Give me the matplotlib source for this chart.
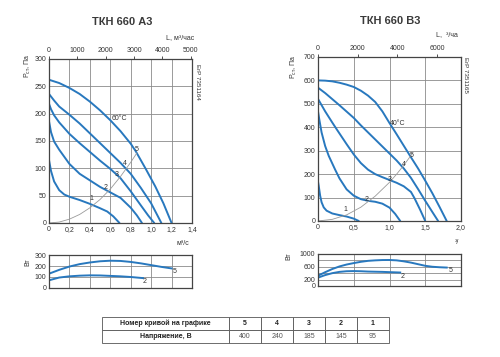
import matplotlib
matplotlib.use("Agg")
import matplotlib.pyplot as plt

plt.rcParams['font.family'] = ['Liberation Sans', 'DejaVu Sans']

BLUE = '#2878be'
GRAY = '#333333'

# ---- TKH 660 A3: pressure curves (x in m3/s, y in Pa)
a_x5 = [0, 0.1, 0.2, 0.3, 0.4, 0.5, 0.6, 0.7, 0.8, 0.85, 0.95, 1.04, 1.12, 1.2]
a_y5 = [262, 256, 247, 236, 222, 206, 188, 168, 145, 131, 98, 67, 36, 0]
a_x4 = [0, 0.05, 0.1, 0.2, 0.3, 0.4, 0.5, 0.6, 0.7, 0.8, 0.9, 1.0, 1.1]
a_y4 = [236, 224, 213, 198, 182, 164, 146, 128, 110, 90, 64, 36, 0]
a_x3 = [0, 0.02, 0.05, 0.1, 0.2, 0.3, 0.4, 0.5, 0.6, 0.7, 0.8, 0.9, 0.97, 1.03]
a_y3 = [218, 208, 197, 184, 163, 146, 130, 114, 99, 82, 58, 32, 14, 0]
a_x2 = [0, 0.02, 0.05, 0.1, 0.2, 0.3, 0.4, 0.5, 0.6, 0.7, 0.8, 0.86, 0.91]
a_y2 = [186, 166, 149, 134, 108, 90, 78, 66, 56, 46, 28, 14, 0]
a_x1 = [0, 0.02, 0.05, 0.1, 0.15, 0.2, 0.3, 0.4, 0.5, 0.57, 0.63, 0.69]
a_y1 = [115, 95, 76, 60, 52, 48, 42, 35, 27, 21, 12, 0]
a_sys_x = [0, 0.1, 0.2, 0.3, 0.4, 0.5, 0.6, 0.7, 0.8, 0.86]
a_sys_y = [0, 1.7, 7, 15.6, 27.7, 43, 62, 85, 111, 128]
# power (W)
a_px5 = [0, 0.1, 0.2, 0.3, 0.4, 0.5, 0.6, 0.7, 0.8, 0.9, 1.0, 1.1, 1.2]
a_pw5 = [130, 165, 195, 217, 232, 243, 248, 246, 237, 224, 208, 192, 178]
a_px2 = [0, 0.1, 0.2, 0.3, 0.4, 0.5, 0.6, 0.7, 0.8, 0.92]
a_pw2 = [70, 95, 106, 112, 115, 114, 110, 106, 100, 90]

# ---- TKH 660 B3
b_x5 = [0, 0.1, 0.2, 0.3, 0.4, 0.5, 0.6, 0.7, 0.8, 0.9, 1.0, 1.1, 1.2, 1.3, 1.4, 1.5, 1.6, 1.7, 1.8]
b_y5 = [600, 599, 596, 590, 582, 572, 556, 535, 508, 468, 418, 370, 321, 272, 224, 172, 118, 60, 0]
b_x4 = [0, 0.1, 0.2, 0.3, 0.4, 0.5, 0.6, 0.7, 0.8, 0.9, 1.0, 1.1, 1.2, 1.3, 1.4, 1.5, 1.6, 1.68]
b_y4 = [569, 546, 520, 494, 467, 440, 408, 378, 348, 318, 288, 258, 224, 184, 136, 86, 38, 0]
b_x3 = [0, 0.1, 0.2, 0.26, 0.4, 0.5, 0.6, 0.7, 0.8, 0.9, 1.0, 1.1, 1.2, 1.3, 1.35, 1.43, 1.5]
b_y3 = [521, 468, 420, 392, 328, 284, 247, 219, 200, 187, 175, 163, 148, 124, 97, 47, 0]
b_x2 = [0, 0.02, 0.05, 0.1, 0.15, 0.24, 0.3, 0.4, 0.5, 0.6, 0.7, 0.8, 0.9, 1.0, 1.08, 1.15]
b_y2 = [468, 430, 378, 320, 278, 219, 182, 135, 108, 93, 86, 82, 74, 57, 30, 0]
b_x1 = [0, 0.01, 0.03, 0.05, 0.08, 0.12, 0.2, 0.3, 0.4, 0.5, 0.57]
b_y1 = [168, 150, 108, 80, 58, 44, 32, 25, 19, 10, 0]
b_sys_x = [0, 0.2, 0.4, 0.6, 0.8, 1.0, 1.1, 1.2, 1.32]
b_sys_y = [0, 7, 26, 59, 106, 165, 200, 238, 288]
b_px5 = [0, 0.1, 0.2, 0.3, 0.4, 0.5, 0.6, 0.7, 0.8, 0.9, 1.0, 1.1, 1.2, 1.3, 1.4, 1.5, 1.6, 1.7, 1.8]
b_pw5 = [320, 430, 530, 610, 670, 715, 755, 785, 800, 810, 812, 800, 770, 730, 680, 630, 600, 585, 575]
b_px2 = [0, 0.1, 0.2, 0.3, 0.4, 0.5, 0.6, 0.7, 0.8, 0.9, 1.0, 1.15]
b_pw2 = [260, 340, 400, 440, 460, 465, 460, 450, 445, 440, 432, 420]

curve_numbers = ['5', '4', '3', '2', '1']
voltages = ['400', '240', '185', '145', '95']

fig = plt.figure(figsize=(5, 3.57), dpi=100)


def style_axes(ax):
    for s in ax.spines.values():
        s.set_color('#444444')
        s.set_linewidth(0.9)
    ax.grid(True, color='#8a8a8a', linewidth=0.6)
    ax.set_axisbelow(True)
    ax.tick_params(length=0, labelsize=5, colors=GRAY, pad=2)


def main_chart(rect, curves, sysx, sysy, xmax, xstep, ymax, ystep, xlabels, top_ticks):
    ax = fig.add_axes(rect)
    style_axes(ax)
    for xs, ys in curves:
        ax.plot(xs, ys, color=BLUE, lw=1.4, solid_capstyle='round', solid_joinstyle='round')
    ax.plot(sysx, sysy, color='#9a9a9a', lw=0.6)
    ax.set_xlim(0, xmax)
    ax.set_ylim(0, ymax)
    ax.set_xticks([i * xstep for i in range(len(xlabels))])
    ax.set_xticklabels(xlabels)
    ax.set_yticks(range(0, ymax + 1, ystep))
    top = ax.secondary_xaxis('top', functions=(lambda v: v * 3600, lambda v: v / 3600))
    top.set_xticks(top_ticks)
    top.tick_params(length=2, width=0.6, labelsize=5, colors=GRAY, pad=1.5)
    top.spines['top'].set_visible(False)
    return ax


def power_chart(rect, xmax, xstep, nx, ymax, yticks, ylabels, series):
    ax = fig.add_axes(rect)
    style_axes(ax)
    for xs, ys in series:
        ax.plot(xs, ys, color=BLUE, lw=1.4, solid_joinstyle='round')
    ax.set_xlim(0, xmax)
    ax.set_ylim(0, ymax)
    ax.set_xticks([i * xstep for i in range(nx)])
    ax.set_xticklabels([])
    ax.set_yticks(yticks)
    ax.set_yticklabels(ylabels)
    return ax


# ---- left chart
ax1 = main_chart([0.098, 0.3754, 0.286, 0.4594],
                 [(a_x5, a_y5), (a_x4, a_y4), (a_x3, a_y3), (a_x2, a_y2), (a_x1, a_y1)],
                 a_sys_x, a_sys_y, 1.4, 0.2, 300, 50,
                 ['0', '0,2', '0,4', '0,6', '0,8', '1,0', '1,2', '1,4'],
                 [0, 1000, 2000, 3000, 4000, 5000])
for t, x, y in [('1', 0.42, 44), ('2', 0.55, 64), ('3', 0.66, 89), ('4', 0.745, 109), ('5', 0.86, 135)]:
    ax1.text(x, y, t, fontsize=5, color=GRAY, ha='center', va='center')
ax1.text(0.61, 191, '60°C', fontsize=5, color=GRAY, va='center')

axp1 = power_chart([0.098, 0.1933, 0.286, 0.0924], 1.4, 0.2, 8, 300,
                   [0, 100, 200, 300], ['0', '100', '200', '300'],
                   [(a_px5, a_pw5), (a_px2, a_pw2)])
axp1.text(1.234, 148, '5', fontsize=5, color=GRAY, ha='center', va='center')
axp1.text(0.94, 57, '2', fontsize=5, color=GRAY, ha='center', va='center')

# ---- right chart
ax2 = main_chart([0.636, 0.381, 0.286, 0.4594],
                 [(b_x5, b_y5), (b_x4, b_y4), (b_x3, b_y3), (b_x2, b_y2), (b_x1, b_y1)],
                 b_sys_x, b_sys_y, 2.0, 0.5, 700, 100,
                 ['0', '0,5', '1,0', '1,5', '2,0'],
                 [0, 2000, 4000, 6000])
for t, x, y in [('1', 0.38, 47), ('2', 0.68, 93), ('3', 1.0, 176), ('4', 1.2, 240), ('5', 1.31, 279)]:
    ax2.text(x, y, t, fontsize=5, color=GRAY, ha='center', va='center')
ax2.text(1.01, 416, '40°C', fontsize=5, color=GRAY, va='center')

axp2 = power_chart([0.636, 0.199, 0.286, 0.0896], 2.0, 0.5, 5, 1000,
                   [0, 200, 400, 600, 800, 1000], ['0', '200', '', '600', '', '1000'],
                   [(b_px5, b_pw5), (b_px2, b_pw2)])
axp2.text(1.86, 468, '5', fontsize=5, color=GRAY, ha='center', va='center')
axp2.text(1.19, 306, '2', fontsize=5, color=GRAY, ha='center', va='center')

# ---- titles and loose labels
fig.text(0.244, 0.938, 'ТКН 660 А3', fontsize=8, fontweight='bold', color='#3a3a3a', ha='center', va='center')
fig.text(0.78, 0.941, 'ТКН 660 В3', fontsize=8, fontweight='bold', color='#3a3a3a', ha='center', va='center')
fig.text(0.056, 0.815, 'Р$_{\\mathregular{ст}}$, Па', fontsize=5, color=GRAY, rotation=90, ha='center', va='center')
fig.text(0.587, 0.812, 'Р$_{\\mathregular{ст}}$, Па', fontsize=5, color=GRAY, rotation=90, ha='center', va='center')
fig.text(0.056, 0.266, 'Вт', fontsize=5, color=GRAY, rotation=90, ha='center', va='center')
fig.text(0.578, 0.283, 'Вт', fontsize=5, color=GRAY, rotation=90, ha='center', va='center')
fig.text(0.394, 0.770, 'ErP 7351164', fontsize=4.5, color=GRAY, rotation=-90, ha='center', va='center')
fig.text(0.930, 0.790, 'ErP 7351165', fontsize=4.5, color=GRAY, rotation=-90, ha='center', va='center')
fig.text(0.36, 0.894, 'L, м³/час', fontsize=5, color=GRAY, ha='center', va='center')
fig.text(0.894, 0.902, 'L,  ³/ча', fontsize=5, color=GRAY, ha='center', va='center')
fig.text(0.366, 0.317, 'м³/с', fontsize=5, color=GRAY, ha='center', va='center')
fig.text(0.914, 0.32, '³/', fontsize=5, color=GRAY, ha='center', va='center')

# ---- table
axt = fig.add_axes([0.204, 0.039, 0.574, 0.073])
axt.axis('off')
tbl = axt.table(cellText=[['Номер кривой на графике'] + curve_numbers,
                          ['Напряжение, В'] + voltages],
                colWidths=[0.4425] + [0.1115] * 5, cellLoc='center', bbox=[0, 0, 1, 1])
tbl.auto_set_font_size(False)
for (r, c), cell in tbl.get_celld().items():
    cell.set_edgecolor('#555555')
    cell.set_linewidth(0.6)
    txt = cell.get_text()
    txt.set_fontsize(5)
    if r == 0 or c == 0:
        txt.set_fontweight('bold')
        txt.set_color('#222222')
    else:
        txt.set_color('#555555')

fig.savefig('out.png', dpi=100)
